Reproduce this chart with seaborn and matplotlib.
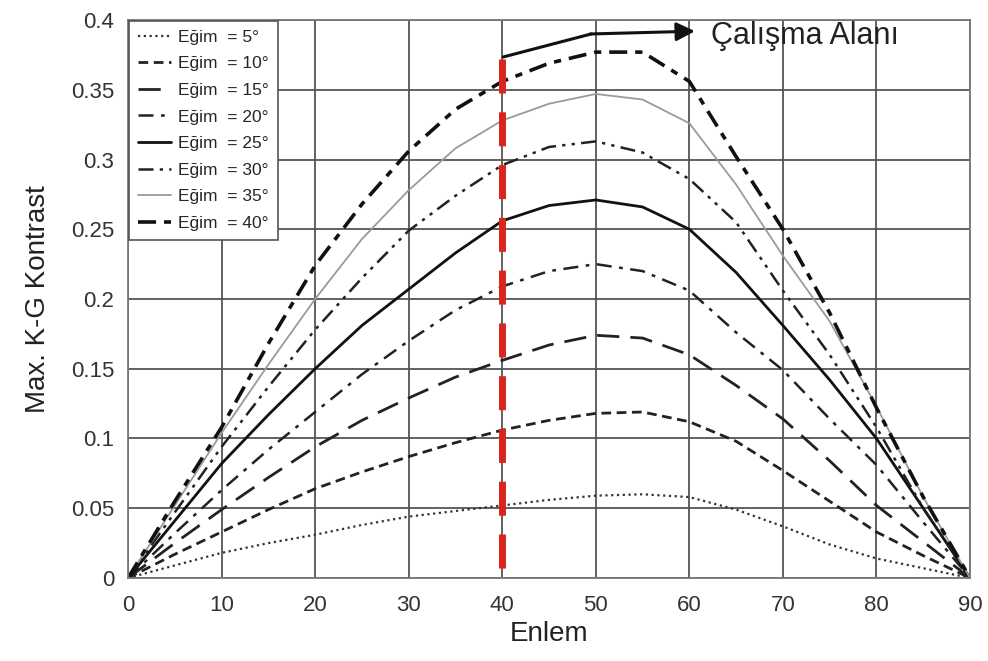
import matplotlib
matplotlib.use("Agg")
import matplotlib.pyplot as plt
import matplotlib.ticker as mticker
import seaborn as sns
import pandas as pd

# enlem noktalari
enlem = [0, 5, 10, 15, 20, 25, 30, 35, 40, 45, 50, 55, 60, 65, 70, 75, 80, 85, 90]

# egim degerlerine gore max K-G kontrast
egim_5 = [0, 0.009, 0.018, 0.025, 0.031, 0.038, 0.044, 0.048, 0.052, 0.056, 0.059, 0.060, 0.058, 0.049, 0.037, 0.024, 0.014, 0.007, 0]
egim_10 = [0, 0.017, 0.033, 0.049, 0.064, 0.076, 0.087, 0.097, 0.106, 0.113, 0.118, 0.119, 0.112, 0.098, 0.077, 0.055, 0.033, 0.016, 0]
egim_15 = [0, 0.025, 0.049, 0.072, 0.094, 0.113, 0.129, 0.144, 0.156, 0.167, 0.174, 0.172, 0.160, 0.138, 0.114, 0.084, 0.052, 0.026, 0]
egim_20 = [0, 0.032, 0.063, 0.092, 0.119, 0.146, 0.170, 0.192, 0.209, 0.220, 0.225, 0.220, 0.206, 0.176, 0.149, 0.114, 0.081, 0.040, 0]
egim_25 = [0, 0.041, 0.082, 0.117, 0.150, 0.181, 0.207, 0.233, 0.256, 0.267, 0.271, 0.266, 0.250, 0.219, 0.181, 0.142, 0.100, 0.050, 0]
egim_30 = [0, 0.047, 0.094, 0.137, 0.178, 0.215, 0.249, 0.274, 0.296, 0.309, 0.313, 0.305, 0.286, 0.255, 0.206, 0.160, 0.108, 0.050, 0]
egim_35 = [0, 0.052, 0.104, 0.153, 0.200, 0.243, 0.278, 0.308, 0.328, 0.340, 0.347, 0.343, 0.326, 0.282, 0.231, 0.184, 0.123, 0.058, 0]
egim_40 = [0, 0.055, 0.108, 0.168, 0.224, 0.268, 0.306, 0.336, 0.356, 0.369, 0.377, 0.377, 0.356, 0.302, 0.250, 0.190, 0.122, 0.058, 0]

egimler = [5, 10, 15, 20, 25, 30, 35, 40]
seriler = [egim_5, egim_10, egim_15, egim_20, egim_25, egim_30, egim_35, egim_40]

# cizgi stilleri
stiller = {
    5: dict(color="#333333", lw=1.6, ls=(0, (1, 1.6))),
    10: dict(color="#222222", lw=2.0, ls=(0, (3.5, 2))),
    15: dict(color="#222222", lw=2.0, ls=(0, (8, 4))),
    20: dict(color="#222222", lw=1.8, ls=(0, (6, 3, 1.5, 3))),
    25: dict(color="#111111", lw=2.0, ls="-"),
    30: dict(color="#222222", lw=1.8, ls=(0, (6, 2.5, 1.3, 2.5, 1.3, 2.5))),
    35: dict(color="#9a9a9a", lw=1.3, ls="-"),
    40: dict(color="#111111", lw=2.6, ls=(0, (5, 2.2, 2, 2.2))),
}

sns.set_style("white")
plt.rcParams["font.family"] = ["Liberation Sans", "DejaVu Sans"]

fig = plt.figure(figsize=(9.88, 6.61), dpi=100)
ax = fig.add_axes([0.1296, 0.1256, 0.8522, 0.8441])

for egim, seri in zip(egimler, seriler):
    df = pd.DataFrame({"Enlem": enlem, "Kontrast": seri})
    s = stiller[egim]
    sns.lineplot(data=df, x="Enlem", y="Kontrast", ax=ax, color=s["color"],
                 linewidth=s["lw"], linestyle=s["ls"],
                 label="Eğim  = %d°" % egim)

# calisma alani (40 derece enlem)
ax.plot([40, 40], [0.372, 0], color="#d8261f", lw=5, ls=(0, (4.9, 2.7)),
        solid_capstyle="butt", dash_capstyle="butt", zorder=5)
ax.plot([40.1, 49.5], [0.3735, 0.390], color="#111111", lw=2.2, zorder=6)
ax.annotate("", xy=(60.6, 0.392), xytext=(49.4, 0.390),
            arrowprops=dict(arrowstyle="-|>", color="#111111", lw=2.2,
                            mutation_scale=28, shrinkA=0, shrinkB=0),
            zorder=6)
ax.text(62.3, 0.3885, "Çalışma Alanı", fontsize=22, va="center", ha="left",
        color="#222222")

ax.set_xlim(0, 90)
ax.set_ylim(0, 0.4)
ax.set_xticks(range(0, 91, 10))
ax.set_yticks([0, 0.05, 0.1, 0.15, 0.2, 0.25, 0.3, 0.35, 0.4])
ax.yaxis.set_major_formatter(mticker.FuncFormatter(lambda v, p: "%g" % round(v, 2)))
ax.grid(True, color="#555555", lw=1.3)
for sp in ax.spines.values():
    sp.set_color("#777777")
    sp.set_linewidth(1.3)
ax.tick_params(axis="both", direction="out", length=5, width=1.2,
               color="#777777", labelsize=16, labelcolor="#333333", pad=5)
ax.tick_params(axis="x", pad=7)
ax.set_xlabel("Enlem", fontsize=20, color="#222222", labelpad=4)
ax.set_ylabel("Max. K-G Kontrast", fontsize=20, color="#222222", labelpad=14)

leg = ax.legend(loc="upper left", fontsize=12.5, frameon=True, fancybox=False,
                handlelength=1.9, handletextpad=0.45, labelspacing=0.66,
                borderaxespad=0.05, borderpad=0.5)
leg.get_frame().set_edgecolor("#555555")
leg.get_frame().set_linewidth(1.2)
leg.get_frame().set_alpha(1)

fig.savefig("out.png", dpi=100)
